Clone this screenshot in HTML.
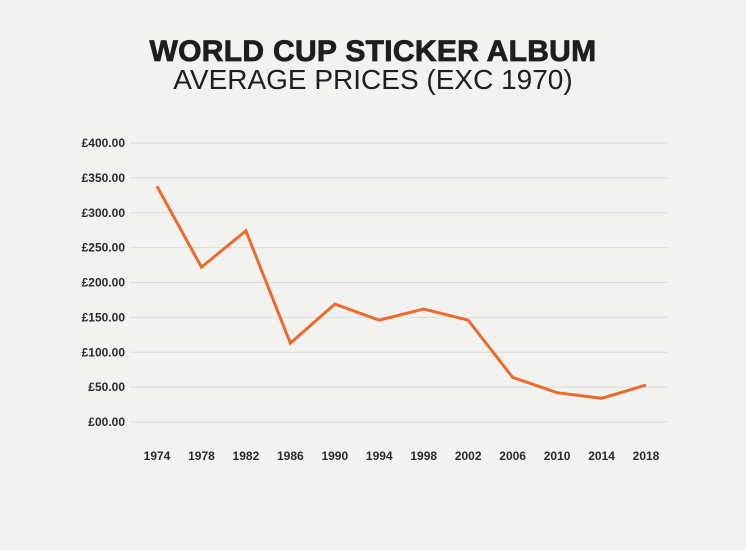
<!DOCTYPE html>
<html><head><meta charset="utf-8"><style>
html,body{margin:0;padding:0;background:#f2f2f1;}
#wrap{position:relative;width:746px;height:550px;background:#f2f2f1;overflow:hidden;font-family:"Liberation Sans",sans-serif;}
.t1{position:absolute;left:0;width:746px;top:36px;text-align:center;font-size:30px;font-weight:900;color:#1e1e1e;letter-spacing:0.3px;-webkit-text-stroke:0.8px #1e1e1e;line-height:32px;}
.t2{position:absolute;left:0;width:746px;top:65px;text-align:center;font-size:28px;color:#1e1e1e;line-height:30px;}
svg{position:absolute;left:0;top:0;}
svg text{font-family:"Liberation Sans Narrow","Liberation Sans",sans-serif;font-weight:bold;font-size:12px;fill:#2a2a2a;}
</style></head><body>
<div id="wrap">
<div class="t1">WORLD CUP STICKER ALBUM</div>
<div class="t2">AVERAGE PRICES (EXC 1970)</div>
<svg id="chart" width="746" height="550"></svg>
</div>
<script>
const years=["1974","1978","1982","1986","1990","1994","1998","2002","2006","2010","2014","2018"];
const prices=[338,222,274,113,169,146,162,146,64,42,34,53];
const yTicks=[0,50,100,150,200,250,300,350,400];
const yTickLabels=["£00.00","£50.00","£100.00","£150.00","£200.00","£250.00","£300.00","£350.00","£400.00"];
const NS="http://www.w3.org/2000/svg";
const svg=document.getElementById('chart');
const x0=157,x1=646,yTop=143,yBot=422,gl=130,gr=668;
function xs(i){return x0+(x1-x0)*i/(years.length-1);}
function ys(v){return yBot-(yBot-yTop)*v/400;}
function mk(t,a){const e=document.createElementNS(NS,t);for(const k in a)e.setAttribute(k,a[k]);svg.appendChild(e);return e;}
yTicks.forEach((v,i)=>{
  const l=mk('line',{x1:gl,x2:gr,y1:ys(v),y2:ys(v),stroke:'#dcdcdc','stroke-width':1});
  
  
  const t=mk('text',{x:125,y:ys(v)+4,'text-anchor':'end'});
  t.textContent=yTickLabels[i];
  
  
});
years.forEach((y,i)=>{
  const t=mk('text',{x:xs(i),y:460,'text-anchor':'middle'});
  t.textContent=y;
  
  
});
const p=mk('polyline',{points:prices.map((v,i)=>xs(i)+','+ys(v)).join(' '),fill:'none',stroke:'#ec6a2c','stroke-width':3,'stroke-linejoin':'miter'});


</script>
</body></html>
